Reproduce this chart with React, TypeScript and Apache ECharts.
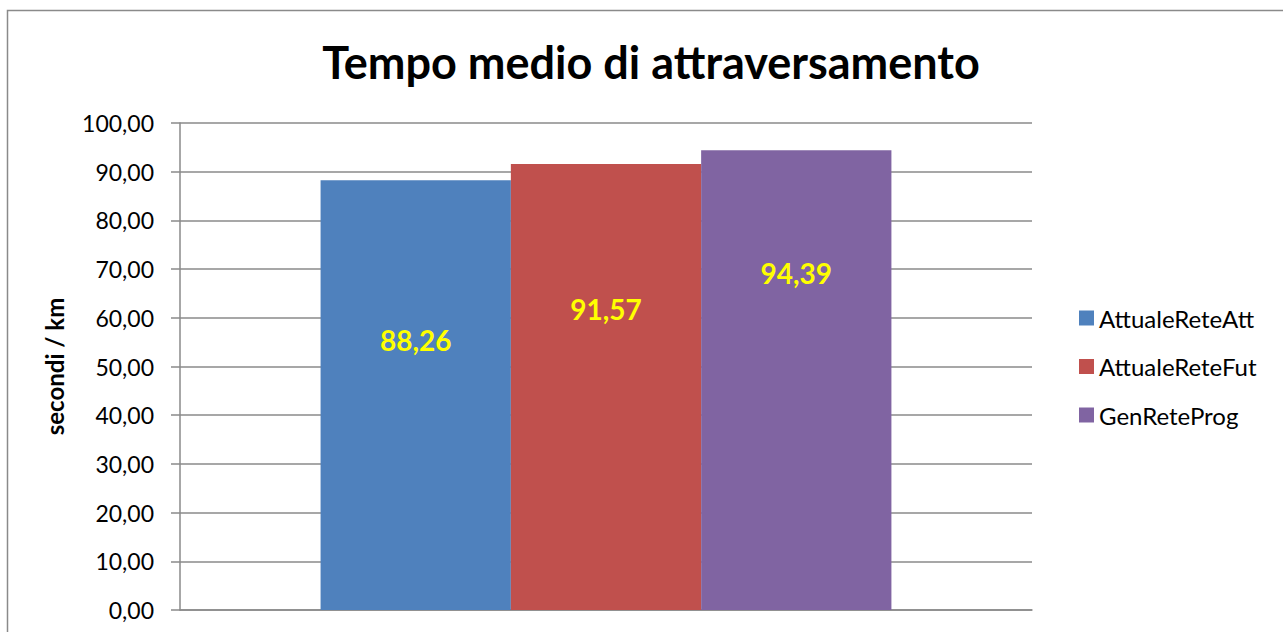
import React, { useEffect, useRef } from "react";
import * as echarts from "echarts";

const titleText = "Tempo medio di attraversamento";
const yAxisName = "secondi / km";
const categories = [""];
const seriesNames = ["AttualeReteAtt", "AttualeReteFut", "GenReteProg"];
const seriesValues = [88.26, 91.57, 94.39];
const seriesColors = ["#4F81BD", "#C0504D", "#8064A2"];
const labelOffsets = [160, 145, 123];

const FONT = "Lato, 'Noto Sans', sans-serif";
const fmt = (v: number) => v.toFixed(2).replace(".", ",");

export default function App() {
  const ref = useRef<HTMLDivElement>(null);
  useEffect(() => {
    if (!ref.current) return;
    const chart = echarts.init(ref.current, null, { renderer: "svg" });
    chart.setOption({
      animation: false,
      backgroundColor: "#ffffff",
      textStyle: { fontFamily: FONT },
      title: {
        text: titleText,
        left: 646,
        top: 34,
        textAlign: "center",
        textStyle: { fontFamily: FONT, fontWeight: "bold", fontSize: 45, color: "#000" },
      },
      graphic: [
        {
          type: "rect",
          shape: { x: 7.5, y: 10.5, width: 1400, height: 800 },
          style: { fill: "none", stroke: "#8a8a8a", lineWidth: 1.5 },
          silent: true,
          z: -1,
        },
      ],
      legend: {
        orient: "vertical",
        left: 1074,
        top: 301,
        itemWidth: 15,
        itemHeight: 15,
        itemGap: 24.5,
        icon: "rect",
        textStyle: { fontFamily: FONT, fontSize: 24, lineHeight: 24, color: "#000" },
        data: seriesNames,
      },
      grid: { left: 180, right: 251, top: 123, bottom: 22, containLabel: false },
      xAxis: {
        type: "category",
        data: categories,
        axisLine: { lineStyle: { color: "#8a8a8a", width: 1.5 } },
        axisTick: { show: false },
        axisLabel: { show: false },
      },
      yAxis: {
        type: "value",
        min: 0,
        max: 100,
        interval: 10,
        name: yAxisName,
        nameLocation: "middle",
        nameGap: 114,
        nameRotate: 90,
        nameTextStyle: { fontFamily: FONT, fontWeight: "bold", fontSize: 24, color: "#000" },
        axisLine: { show: true, lineStyle: { color: "#8a8a8a", width: 1.5 } },
        axisTick: { show: true, length: 9, lineStyle: { color: "#8a8a8a", width: 1.5 } },
        axisLabel: {
          formatter: (v: number) => fmt(v),
          fontFamily: FONT,
          fontSize: 23,
          color: "#000",
          margin: 26,
        },
        splitLine: { lineStyle: { color: "#8a8a8a", width: 1.5 } },
      },
      series: seriesNames.map((name, i) => ({
        name,
        type: "bar",
        data: [seriesValues[i]],
        barGap: "0%",
        barCategoryGap: "33%",
        itemStyle: { color: seriesColors[i] },
        label: {
          show: true,
          position: ["50%", labelOffsets[i]],
          align: "center",
          verticalAlign: "middle",
          formatter: (p: any) => fmt(p.value),
          fontFamily: FONT,
          fontWeight: "bold",
          fontSize: 28,
          color: "#FFFF00",
        },
      })),
    });
    return () => chart.dispose();
  }, []);
  return (
    <div
      ref={ref}
      style={{ position: "fixed", left: 0, top: 0, width: 1283, height: 632 }}
    />
  );
}
